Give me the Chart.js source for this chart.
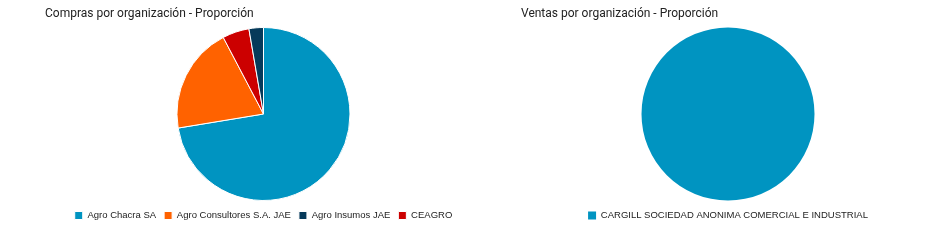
<!DOCTYPE html>
<html>
<head>
<meta charset="utf-8">
<script src="https://cdn.jsdelivr.net/npm/chart.js@4"></script>
<style>
    html, body { margin: 0; padding: 0; background: #fff; }
    .wrap { position: relative; width: 932px; height: 240px; overflow: hidden; }
    .box { position: absolute; top: 0; height: 240px; }
    #compras-box { left: 0; width: 527px; }
    #ventas-box { left: 466px; width: 524px; }
</style>
</head>
<body>
<div class="wrap">
    <div class="box" id="compras-box"><canvas id="comprasChart"></canvas></div>
    <div class="box" id="ventas-box"><canvas id="ventasChart"></canvas></div>
</div>
<script>
// Compras (slices in drawing order, clockwise from the top)
const comprasLabels = ['Agro Chacra SA', 'Agro Consultores S.A. JAE', 'CEAGRO', 'Agro Insumos JAE'];
const comprasValues = [72.4, 19.9, 5.0, 2.7];
const comprasColors = ['#0094c1', '#ff6200', '#cc0000', '#063a5a'];
const comprasLegendOrder = ['Agro Chacra SA', 'Agro Consultores S.A. JAE', 'Agro Insumos JAE', 'CEAGRO'];

// Ventas
const ventasLabels = ['CARGILL SOCIEDAD ANONIMA COMERCIAL E INDUSTRIAL'];
const ventasValues = [100];
const ventasColors = ['#0094c1'];

function createPieChart(ctx, title, labels, values, colors, padX, legendOrder) {
    return new Chart(ctx, {
        type: 'pie',
        data: {
            labels: labels,
            datasets: [{
                data: values,
                backgroundColor: colors,
                borderColor: '#ffffff',
                // a single slice gets no seam line
                borderWidth: values.length > 1 ? 1 : 0,
            }]
        },
        options: {
            responsive: true,
            maintainAspectRatio: false,
            animation: false,
            events: [],
            radius: 86.5,
            layout: {
                padding: { left: padX, right: padX, top: 0, bottom: 9.75 }
            },
            plugins: {
                title: {
                    display: true,
                    text: title,
                    align: 'start',
                    color: '#222222',
                    font: { family: 'Roboto', size: 12, weight: 'normal' },
                    padding: { top: 7, bottom: 3.85 }
                },
                legend: {
                    display: true,
                    position: 'bottom',
                    labels: {
                        boxWidth: 8,
                        boxHeight: 8,
                        padding: 8,
                        color: '#222222',
                        font: { family: 'Liberation Sans', size: 9.5 },
                        sort: legendOrder ? function(a, b) {
                            return legendOrder.indexOf(a.text) - legendOrder.indexOf(b.text);
                        } : undefined
                    }
                },
                tooltip: { enabled: false }
            }
        }
    });
}

const comprasCtx = document.getElementById('comprasChart').getContext('2d');
const ventasCtx = document.getElementById('ventasChart').getContext('2d');
createPieChart(comprasCtx, 'Compras por organización - Proporción', comprasLabels, comprasValues, comprasColors, 45, comprasLegendOrder);
createPieChart(ventasCtx, 'Ventas por organización - Proporción', ventasLabels, ventasValues, ventasColors, 55, null);
</script>
</body>
</html>
